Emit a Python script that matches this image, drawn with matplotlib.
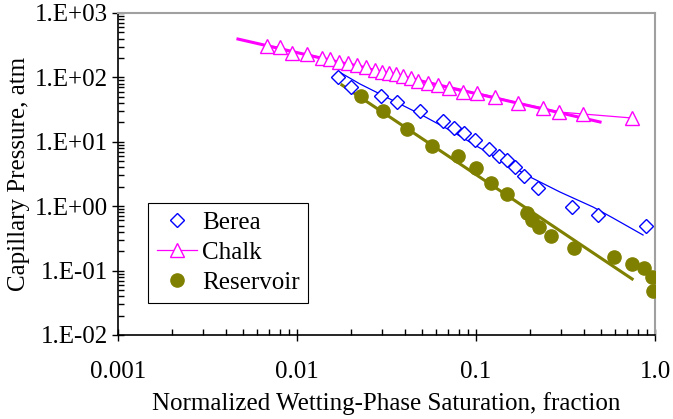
import matplotlib
matplotlib.use("Agg")
import matplotlib.pyplot as plt
from matplotlib.ticker import LogLocator, NullFormatter

plt.rcParams['font.family'] = ['Liberation Serif', 'DejaVu Serif']

# Berea data (diamonds)
berea_sw = [0.01694, 0.02004, 0.02944, 0.03624, 0.0486, 0.0655, 0.0753, 0.0857, 0.0986,
            0.1183, 0.1343, 0.149, 0.165, 0.1854, 0.2218, 0.3436, 0.481, 0.891]
berea_pc = [101.4, 71.0, 51.4, 41.5, 30.1, 21.0, 16.4, 13.7, 10.7,
            7.73, 6.02, 5.22, 4.06, 2.94, 1.92, 0.972, 0.73, 0.493]
# Berea model curve
berea_fit_sw = [0.01762, 0.02249, 0.0486, 0.0745, 0.1052, 0.2005, 0.2944, 0.451, 0.582, 0.857]
berea_fit_pc = [117.0, 79.0, 27.0, 14.2, 8.0, 2.84, 1.66, 0.97, 0.656, 0.357]

# Chalk data (triangles)
chalk_sw = [0.00679, 0.00804, 0.00938, 0.01138, 0.0138, 0.01528, 0.01718, 0.01928, 0.02163,
            0.02427, 0.0273, 0.0299, 0.0327, 0.0357, 0.0391, 0.0434, 0.0474, 0.0540,
            0.0614, 0.0706, 0.0845, 0.1014, 0.1276, 0.1718, 0.2366, 0.2911, 0.3963, 0.745]
chalk_pc = [307.6, 296.5, 239.3, 230.7, 200.0, 193.0, 173.4, 167.4, 156.0,
            145.0, 130.3, 121.3, 117.0, 113.0, 105.0, 98.0, 87.9, 81.8,
            76.2, 68.4, 59.3, 57.2, 49.6, 40.0, 33.5, 29.0, 27.0, 23.4]
chalk_fit_sw = [0.00468, 0.493]
chalk_fit_pc = [394.0, 20.3]

# Reservoir data (circles)
res_sw = [0.0228, 0.0302, 0.0412, 0.0568, 0.0792, 0.100, 0.1213, 0.149, 0.1928,
          0.2056, 0.2249, 0.2624, 0.352, 0.590, 0.745, 0.869, 0.962, 0.975]
res_pc = [51.4, 30.1, 15.8, 8.61, 6.02, 3.92, 2.29, 1.55, 0.784,
          0.611, 0.475, 0.344, 0.224, 0.163, 0.127, 0.110, 0.0796, 0.0482]
res_fit_sw = [0.01782, 0.745]
res_fit_pc = [76.2, 0.0741]

x_ticks = [0.001, 0.01, 0.1, 1.0]
x_labels = ['0.001', '0.01', '0.1', '1.0']
y_ticks = [0.01, 0.1, 1, 10, 100, 1000]
y_labels = ['1.E-02', '1.E-01', '1.E+00', '1.E+01', '1.E+02', '1.E+03']

blue = '#0000FF'
magenta = '#FF00FF'
olive = '#808000'

fig = plt.figure(figsize=(6.73, 4.19), dpi=100)
ax = fig.add_axes([0.1753, 0.2005, 0.7980, 0.7685])

ax.plot(chalk_fit_sw, chalk_fit_pc, color=magenta, lw=2.2, zorder=3)
ax.plot(berea_fit_sw, berea_fit_pc, color=blue, lw=0.9, zorder=3)
ax.plot(res_fit_sw, res_fit_pc, color=olive, lw=2.2, zorder=3)

ax.plot(berea_sw, berea_pc, ls='none', marker='D', ms=7.5, mfc='white', mec=blue,
        mew=1.0, label='Berea', zorder=4)
ax.plot(chalk_sw, chalk_pc, ls='-', lw=0.9, color=magenta, marker='^', ms=9.5, mfc='white',
        mec=magenta, mew=1.0, label='Chalk', zorder=4)
ax.plot(res_sw, res_pc, ls='none', marker='o', ms=9.5, mfc=olive, mec=olive,
        label='Reservoir', zorder=4)

ax.set_xscale('log')
ax.set_yscale('log')
ax.set_xlim(0.001, 1.0)
ax.set_ylim(0.01, 1000)

ax.set_xticks(x_ticks)
ax.set_xticklabels(x_labels)
ax.set_yticks(y_ticks)
ax.set_yticklabels(y_labels)
ax.xaxis.set_minor_locator(LogLocator(base=10, subs=range(2, 10)))
ax.yaxis.set_minor_locator(LogLocator(base=10, subs=range(2, 10)))
ax.xaxis.set_minor_formatter(NullFormatter())
ax.yaxis.set_minor_formatter(NullFormatter())

ax.tick_params(which='major', direction='inout', length=8, width=1, labelsize=18,
               top=False, right=False)
ax.tick_params(which='minor', direction='in', length=4, width=1, top=False, right=False)
ax.tick_params(axis='x', which='major', pad=15)
ax.tick_params(axis='y', which='major', pad=3)

for s in ['left', 'bottom']:
    ax.spines[s].set_color('black')
    ax.spines[s].set_linewidth(1.2)
for s in ['top', 'right']:
    ax.spines[s].set_color('#A0A0A0')
    ax.spines[s].set_linewidth(1.5)

ax.set_xlabel('Normalized Wetting-Phase Saturation, fraction', fontsize=18, labelpad=6)
ax.set_ylabel('Capillary Pressure, atm', fontsize=18, labelpad=4)

leg = ax.legend(loc='upper left', bbox_to_anchor=(0.0559, 0.41), fontsize=18,
                frameon=True, fancybox=False, edgecolor='black', framealpha=1,
                handlelength=1.6, handletextpad=0.2, borderpad=0.35, labelspacing=0.3,
                borderaxespad=0)
leg.get_frame().set_linewidth(0.8)

fig.savefig('out.png', dpi=100)
